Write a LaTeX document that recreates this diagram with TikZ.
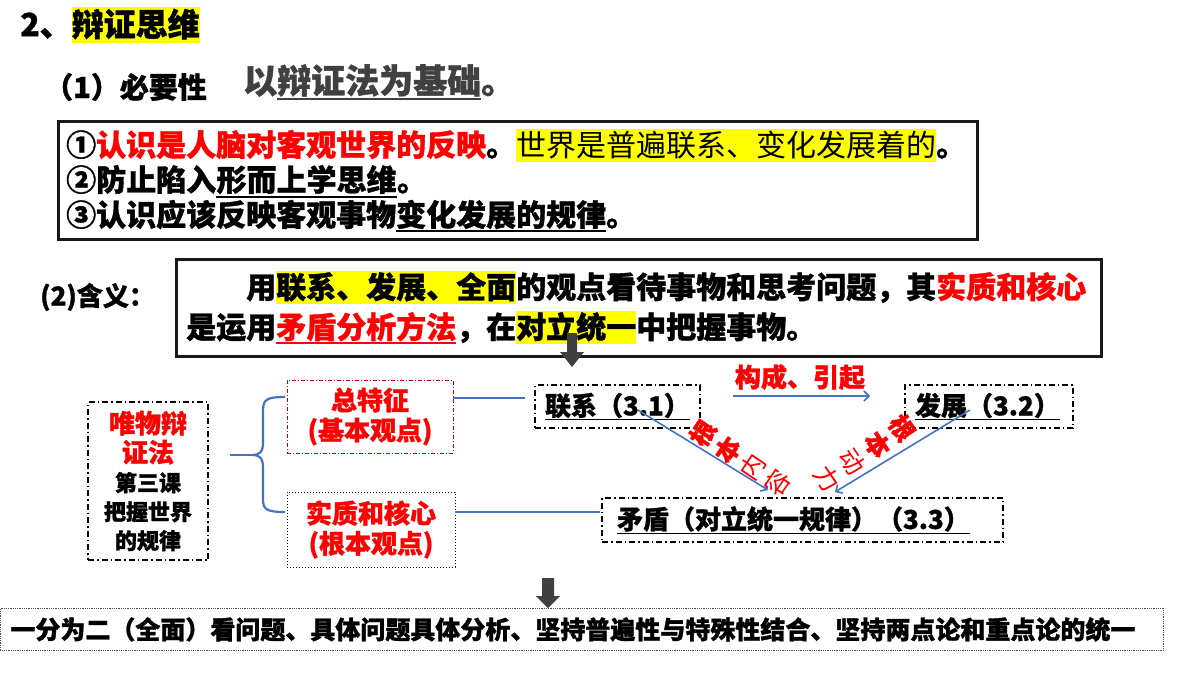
\documentclass[tikz,border=0pt]{standalone}
\usepackage{fontspec}
\setmainfont{Noto Sans CJK SC}[BoldFeatures={FakeBold=1.2}]
\usetikzlibrary{arrows.meta,calc}
\definecolor{hly}{HTML}{FFFF00}
\definecolor{myred}{HTML}{FF0000}
\definecolor{dred}{HTML}{C00000}
\definecolor{myblue}{HTML}{4472C4}
\definecolor{mygray}{HTML}{404040}
\newcommand{\hl}[1]{{\setlength{\fboxsep}{0pt}\colorbox{hly}{\rule[-0.2em]{0pt}{1.1em}#1}}}
\newcommand{\rd}[1]{\textcolor{myred}{#1}}
\newcommand{\fs}[2]{\fontsize{#1}{#2}\selectfont}
\newcommand{\ul}[1]{\leavevmode\setbox0\hbox{#1}\rlap{\rule[-0.19em]{\wd0}{2pt}}\box0}
\begin{document}
\begin{tikzpicture}[x=1pt,y=-1pt,
  bigbox/.style={draw=black!90, line width=2.5pt, anchor=north west, align=left, inner ysep=0pt},
  lineText/.style={anchor=base west, inner sep=0pt, font=\fs{30}{35}\bfseries},
  uline/.style={draw=black, line width=2pt},
  dashdotbox/.style={draw=black, line width=1.4pt, dash pattern=on 6pt off 3pt on 1.5pt off 3pt},
  smallbox/.style={dashdotbox, inner xsep=10pt, inner ysep=0pt, align=left, font=\fs{26}{30}\bfseries},
  bline/.style={draw=myblue, line width=2pt},
  barrow/.style={draw=myblue, line width=1.6pt, -{Straight Barb[length=5pt,width=10pt]}},
  gblock/.style={fill=mygray},
  rotlabel/.style={text=myred, align=center, inner sep=0pt, font=\fs{25}{30}}
]
\useasboundingbox (0,0) rectangle (1200,675);
\fill[white] (0,0) rectangle (1200,675);

% title
\node[anchor=west, inner sep=0pt, font=\fs{32}{38}\bfseries] (title) at (20,25) {2、\hl{辩证思维}};
\node[anchor=west, inner sep=0pt, font=\fs{29}{34}\bfseries] (need) at (44,87) {（1）必要性};
\node[anchor=west, inner sep=0pt, text=mygray, font=\fs{34}{40}\bfseries] (basis) at (243,82) {以\ul{辩证法为基础}。};

% box 1
\node[bigbox, minimum width=919pt, minimum height=118pt] (box1) at (57,120) {};
\node[lineText] (l1) at (66,156) {①\rd{认识是人脑对客观世界的反映}。\hl{\mdseries 世界是普遍联系、变化发展着的}。};
\node[lineText] (l2a) at (66,191) {②防止陷入};
\node[lineText, anchor=base west] (l2b) at (l2a.base east) {形而上学思维};
\node[lineText, anchor=base west] (l2c) at (l2b.base east) {。};
\draw[uline] ($(l2b.base west)+(0,6)$) -- ($(l2b.base east)+(0,6)$);
\node[lineText] (l3) at (66,226) {③认识应该反映客观事物\ul{变化发展的规律}。};

% meaning
\node[anchor=west, inner sep=0pt, font=\fs{26}{30}\bfseries] (mean) at (40,297) {(2)含义：};
\node[bigbox, minimum width=925pt, minimum height=97pt, text width=905pt, inner xsep=10pt, font=\fs{30}{40}\bfseries] (box2) at (175,258)
{\hspace*{2em}用\hl{联系、发展、全面}的观点看待事物和思考问题，其\rd{实质和核心}\\
是运用\rd{\ul{矛盾分析方法}}，在\hl{对立统一}中把握事物。};

% arrow 1
\fill[gblock] (567,333) -- (577,333) -- (577,352) -- (584,352) -- (572,367) -- (560,352) -- (567,352) -- cycle;

% left node
\node[dashdotbox, minimum width=120pt, minimum height=158pt, align=center, inner sep=0pt, font=\fs{22}{29}\bfseries] (wl) at (148,481)
{\rd{\fs{26}{29}唯物辩}\\\rd{\fs{26}{29}证法}\\第三课\\把握世界\\的规律};

% brace
\coordinate (bt) at (285,397);
\coordinate (bb) at (285,512);
\coordinate (bm) at (230,455);
\draw[bline, line width=2.2pt] (bt) .. controls (268,397) and (263,399) .. (263,410) -- (263,442) .. controls (263,452) and (260,455) .. (252,455) .. controls (260,455) and (263,458) .. (263,468) -- (263,500) .. controls (263,510) and (268,512) .. (bb);
\draw[bline, line width=2.2pt] (252,455) -- (bm);

% two category boxes
\node[draw=dred, line width=1pt, dash pattern=on 4pt off 2pt on 1pt off 2pt, minimum width=166pt, minimum height=73pt, align=center, inner sep=0pt, text=myred, font=\fs{26}{30}\bfseries] (zt) at (370,416.5) {总特征\\(基本观点)};
\node[draw=black, line width=1pt, dotted, minimum width=168pt, minimum height=75pt, align=center, inner sep=0pt, text=myred, font=\fs{26}{30}\bfseries] (sz) at (371,529.5) {实质和核心\\(根本观点)};

% right boxes
\node[smallbox, minimum height=43pt, text width=145pt] (lx) at (617.5,406.5) {\underline{联系（3.1）}};
\node[smallbox, minimum height=43pt, text width=148pt] (fz) at (989,406.5) {\underline{发展（3.2）}};
\node[smallbox, minimum height=44pt, text width=371pt, inner xsep=15pt] (md) at (802.5,520) {\underline{矛盾（对立统一规律）（3.3）}};

% connectors
\coordinate (zte) at (453,398);
\coordinate (lxw) at (525,398);
\draw[bline] (zte) -- (lxw);
\coordinate (sze) at (455,512);
\coordinate (mdw) at (600,512);
\draw[bline] (sze) -- (mdw);

\node[text=myred, inner sep=0pt, font=\fs{26}{30}\bfseries] (gc) at (800,377) {构成、引起};
\coordinate (g1) at (733,396);
\coordinate (g2) at (870,396);
\draw[barrow] (g1) -- (g2);

\coordinate (d1) at (638,410);
\coordinate (d2) at (768,490);
\draw[barrow] (d1) -- (d2);
\coordinate (e1) at (970,410);
\coordinate (e2) at (835,492);
\draw[barrow] (e1) -- (e2);

\node[rotlabel, rotate=56] (nr) at (740,458) {\textbf{根}\\\textbf{本}\\内\\容};
\node[rotlabel, rotate=-56] (dl) at (865,453) {\textbf{根}\\\textbf{本}\\动\\力};

% arrow 2
\fill[gblock] (542,578) -- (554,578) -- (554,596) -- (560,596) -- (548,608) -- (536,596) -- (542,596) -- cycle;

% bottom box
\node[draw=black!70, line width=0.8pt, densely dotted, anchor=north west, minimum width=1163pt, minimum height=42pt, text width=1143pt, inner xsep=10pt, inner ysep=0pt, align=left, font=\fs{25}{30}\bfseries] (bot) at (0,608)
{一分为二（全面）看问题、具体问题具体分析、坚持普遍性与特殊性结合、坚持两点论和重点论的统一};
\end{tikzpicture}
\end{document}
